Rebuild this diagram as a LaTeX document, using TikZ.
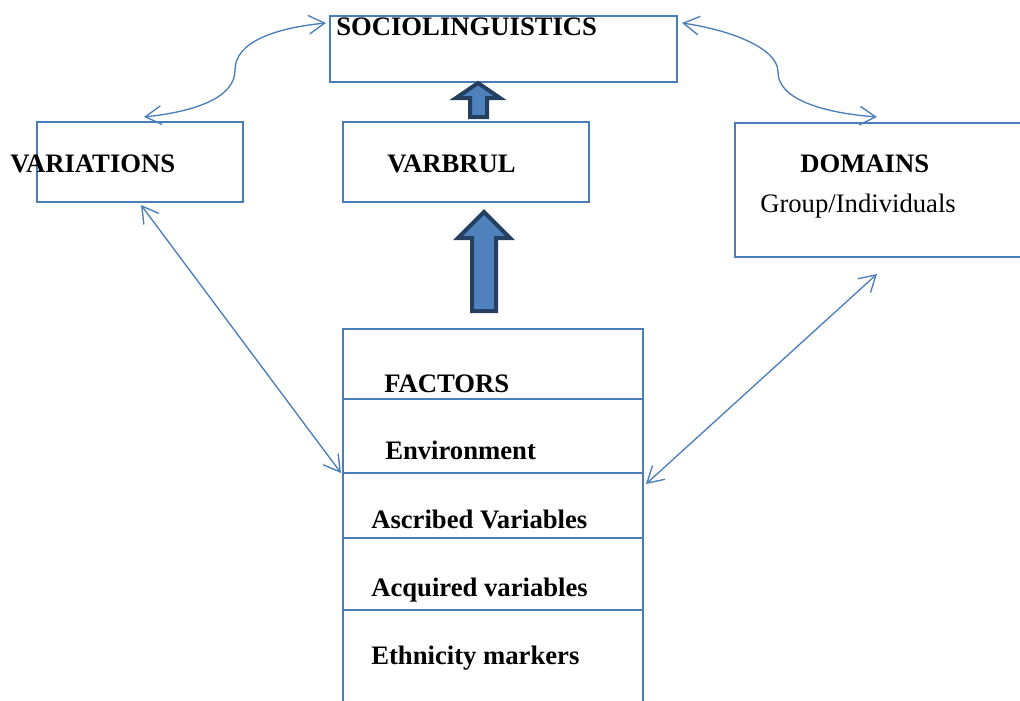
\documentclass[tikz,border=0pt]{standalone}
\usepackage{fontspec}
\setmainfont{Liberation Serif}
\usepackage{xcolor}
\usetikzlibrary{arrows.meta}
\definecolor{myblue}{RGB}{74,126,187}
\definecolor{mynavy}{RGB}{36,63,96}
\definecolor{myfill}{RGB}{79,129,189}
\def\unitpx{0.75pt}

\begin{document}
\begin{tikzpicture}[x=0.75pt, y=-0.75pt,
  box/.style={draw=myblue, line width=1.4pt, inner sep=0},
  lbl/.style={anchor=base west, inner sep=0, font=\fontsize{20}{24}\selectfont\bfseries},
  plain/.style={anchor=base west, inner sep=0, font=\fontsize{20}{24}\selectfont},
  link/.style={draw=myblue, line width=1pt,
    {Straight Barb[length=12pt,width=14pt]}-{Straight Barb[length=12pt,width=14pt]}},
  fat/.style={fill=myfill, draw=mynavy, line width=3pt, line join=miter}]
  \useasboundingbox (0,0) rectangle (1020,700);
  \clip (0,0) rectangle (1020,700);

%boxes:
  \node[box, minimum width=347*\unitpx, minimum height=66*\unitpx] (soc) at (503.5,49) {};
  \node[box, minimum width=206*\unitpx, minimum height=80*\unitpx] (var) at (140,162) {};
  \node[box, minimum width=246*\unitpx, minimum height=80*\unitpx] (varbrul) at (466,162) {};
  \node[box, minimum width=295*\unitpx, minimum height=134*\unitpx] (dom) at (882.5,190) {};
  \node[box, minimum width=300*\unitpx, minimum height=391*\unitpx] (fac) at (493,524.5) {};
  \foreach \y in {399,473,538,610}
    \draw[myblue, line width=1.4pt] (fac.west |- 0,\y) -- (fac.east |- 0,\y);
%%%%%%

  \node[lbl] (socT) at (336,35) {SOCIOLINGUISTICS};
  \node[lbl] (varT) at (10,172) {VARIATIONS};
  \node[lbl] (varbrulT) at (387,172) {VARBRUL};
  \node[lbl] (domT) at (800,172) {DOMAINS};
  \node[plain] (grpT) at (760,212) {Group/Individuals};
  \node[lbl] (facT) at (384,392) {FACTORS};
  \node[lbl] (envT) at (385,459) {Environment};
  \node[lbl] (ascT) at (371,528) {Ascribed Variables};
  \node[lbl] (acqT) at (371,596) {Acquired variables};
  \node[lbl] (ethT) at (371,664) {Ethnicity markers};

%connector ends:
  \coordinate (socL) at (326,23);
  \coordinate (socR) at (682,23);
  \coordinate (varN) at (144,117);
  \coordinate (domN) at (877,117);
  \coordinate (varS) at (141,205);
  \coordinate (facL) at (341,473);
  \coordinate (domS) at (877,274);
  \coordinate (facR) at (646,484);

  \draw[link] (varN) .. controls (200,111) and (235,96) .. (235,70)
    .. controls (235,42) and (275,28) .. (socL);
  \draw[link] (socR) .. controls (730,30) and (778,48) .. (778,72)
    .. controls (778,100) and (825,113) .. (domN);
  \draw[link] (varS) -- (facL);
  \draw[link] (domS) -- (facR);

%fat arrows:
  \draw[fat] (470,117) -- (470,98) -- (456,98) -- (478,83) -- (500,98) -- (487,98) -- (487,117) -- cycle;
  \draw[fat] (472,311) -- (472,238) -- (458,238) -- (484,212) -- (510,238) -- (496,238) -- (496,311) -- cycle;
\end{tikzpicture}
\end{document}
